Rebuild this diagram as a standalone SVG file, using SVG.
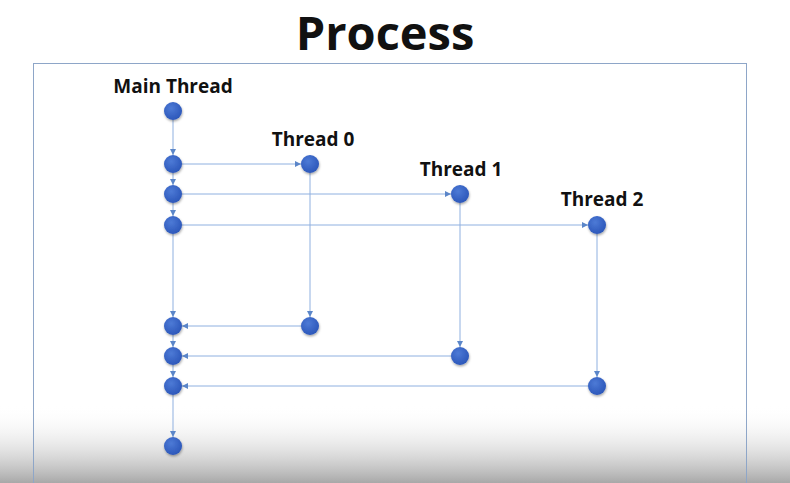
<svg xmlns="http://www.w3.org/2000/svg" width="790" height="483" viewBox="0 0 790 483">
<defs>
<radialGradient id="ball" cx="0.4" cy="0.35" r="0.7">
<stop offset="0" stop-color="#4d7ad6"/>
<stop offset="1" stop-color="#2a55b8"/>
</radialGradient>
<linearGradient id="fade" x1="0" y1="0" x2="0" y2="1">
<stop offset="0" stop-color="#ffffff" stop-opacity="0"/>
<stop offset="1" stop-color="#a8a8a8" stop-opacity="1"/>
</linearGradient>
<marker id="arr" viewBox="0 0 10 10" refX="10" refY="5" markerWidth="6" markerHeight="6" markerUnits="userSpaceOnUse" orient="auto">
<path d="M0,0 L10,5 L0,10 z" fill="#5b86c9"/>
</marker>
<filter id="sh" x="-50%" y="-50%" width="200%" height="200%">
<feDropShadow dx="0.5" dy="1.5" stdDeviation="1.2" flood-color="#000" flood-opacity="0.35"/>
</filter>
</defs>
<style>
.t{font-family:"Open Sans","Liberation Sans",sans-serif;font-weight:bold;fill:#111;text-anchor:middle}
.c line{stroke:#8fb0e0;stroke-width:1}
.n circle{fill:url(#ball);filter:url(#sh)}
</style>
<rect width="790" height="483" fill="#ffffff"/>
<rect x="0" y="405" width="790" height="78" fill="url(#fade)"/>
<text class="t" x="385" y="50" font-size="47">Process</text>
<rect x="33.5" y="63.5" width="713" height="440" fill="none" stroke="#8ea6c8" stroke-width="1"/>
<g class="c">
<line x1="173" y1="120" x2="173" y2="155" marker-end="url(#arr)"/>
<line x1="173" y1="173" x2="173" y2="185" marker-end="url(#arr)"/>
<line x1="173" y1="203" x2="173" y2="216" marker-end="url(#arr)"/>
<line x1="173" y1="234" x2="173" y2="317" marker-end="url(#arr)"/>
<line x1="173" y1="335" x2="173" y2="347" marker-end="url(#arr)"/>
<line x1="173" y1="365" x2="173" y2="377" marker-end="url(#arr)"/>
<line x1="173" y1="395" x2="173" y2="437" marker-end="url(#arr)"/>
<line x1="182" y1="164" x2="301" y2="164" marker-end="url(#arr)"/>
<line x1="182" y1="194" x2="451" y2="194" marker-end="url(#arr)"/>
<line x1="182" y1="225" x2="588" y2="225" marker-end="url(#arr)"/>
<line x1="310" y1="173" x2="310" y2="317" marker-end="url(#arr)"/>
<line x1="460" y1="203" x2="460" y2="347" marker-end="url(#arr)"/>
<line x1="597" y1="234" x2="597" y2="377" marker-end="url(#arr)"/>
<line x1="301" y1="326" x2="182" y2="326" marker-end="url(#arr)"/>
<line x1="451" y1="356" x2="182" y2="356" marker-end="url(#arr)"/>
<line x1="588" y1="386" x2="182" y2="386" marker-end="url(#arr)"/>
</g>
<g id="main" class="n">
<text class="t" x="173" y="93" font-size="19">Main Thread</text>
<circle cx="173" cy="111" r="9"/>
<circle cx="173" cy="164" r="9"/>
<circle cx="173" cy="194" r="9"/>
<circle cx="173" cy="225" r="9"/>
<circle cx="173" cy="326" r="9"/>
<circle cx="173" cy="356" r="9"/>
<circle cx="173" cy="386" r="9"/>
<circle cx="173" cy="446" r="9"/>
</g>
<g id="thread0" class="n">
<text class="t" x="313" y="146" font-size="19">Thread 0</text>
<circle cx="310" cy="164" r="9"/>
<circle cx="310" cy="326" r="9"/>
</g>
<g id="thread1" class="n">
<text class="t" x="461" y="176" font-size="19">Thread 1</text>
<circle cx="460" cy="194" r="9"/>
<circle cx="460" cy="356" r="9"/>
</g>
<g id="thread2" class="n">
<text class="t" x="602" y="206" font-size="19">Thread 2</text>
<circle cx="597" cy="225" r="9"/>
<circle cx="597" cy="386" r="9"/>
</g>
</svg>
